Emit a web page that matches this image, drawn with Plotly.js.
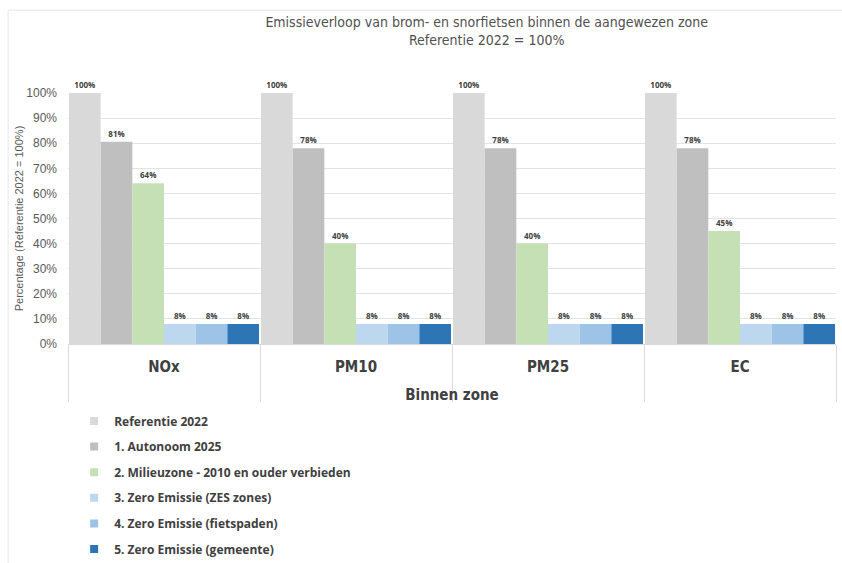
<!DOCTYPE html>
<html><head><meta charset="utf-8">
<script src="https://cdn.plot.ly/plotly-3.0.1.min.js"></script>
<style>body{margin:0;background:#fff}#chart{width:842px;height:563px}</style>
</head><body><div id="chart"></div>
<script>
const categories = ["NOx", "PM10", "PM25", "EC"];
const seriesNames = ["Referentie 2022", "1. Autonoom 2025", "2. Milieuzone - 2010 en ouder verbieden",
  "3. Zero Emissie (ZES zones)", "4. Zero Emissie (fietspaden)", "5. Zero Emissie (gemeente)"];
const referentie = [1.00, 1.00, 1.00, 1.00];
const autonoom = [0.806, 0.78, 0.78, 0.78];
const milieuzone = [0.64, 0.40, 0.40, 0.45];
const zesZones = [0.08, 0.08, 0.08, 0.08];
const fietspaden = [0.08, 0.08, 0.08, 0.08];
const gemeente = [0.08, 0.08, 0.08, 0.08];
const colors = ["#d9d9d9", "#bfbfbf", "#c5e0b4", "#bdd7ee", "#9dc3e6", "#2e75b6"];
const allSeries = [referentie, autonoom, milieuzone, zesZones, fietspaden, gemeente];

const traces = allSeries.map((vals, i) => ({
  type: "bar", name: seriesNames[i], x: categories, y: vals,
  marker: {color: colors[i]}, legendgroup: "g" + i, showlegend: false,
  texttemplate: "%{y:.0%}", textposition: "outside", cliponaxis: false,
  textfont: {family: "Open Sans", size: 8, color: "#404040", weight: "bold"},
  hoverinfo: "x+y+name"
}));
// legend entries (small square swatches like the original)
seriesNames.forEach((n, i) => traces.push({
  type: "scatter", mode: "markers", name: n, x: [null], y: [null], legendgroup: "g" + i,
  marker: {symbol: "square", size: 8, color: colors[i]}, hoverinfo: "skip"
}));

const layout = {
  width: 842, height: 563,
  margin: {l: 68, r: 6, t: 93, b: 219},
  paper_bgcolor: "#fff", plot_bgcolor: "#fff",
  barmode: "group", bargap: 0.01, bargroupgap: 0,
  font: {family: "Liberation Sans Narrow, DejaVu Sans Condensed, sans-serif", color: "#595959"},
  title: {text: "Emissieverloop van brom- en snorfietsen binnen de aangewezen zone<br>Referentie 2022 = 100%",
    x: 0.578, xref: "container", xanchor: "center", y: 0.952, yref: "container", yanchor: "middle",
    font: {size: 14, color: "#505050"}},
  yaxis: {range: [0, 1], tickformat: ".0%", dtick: 0.1, gridcolor: "#e3e3e3", zeroline: false,
    showline: false, ticks: "", ticklabelstandoff: 10,
    tickfont: {size: 12, color: "#595959", family: "Liberation Sans, sans-serif"},
    title: {text: "Percentage (Referentie 2022 = 100%)", standoff: 0, font: {size: 11, color: "#595959", family: "Liberation Sans, sans-serif"}}},
  xaxis: {type: "category", tickson: "boundaries", ticks: "outside", ticklen: 57, tickcolor: "#d9d9d9",
    showline: true, linecolor: "#d9d9d9", showgrid: false, ticklabelstandoff: 9,
    tickfont: {size: 15, color: "#404040", weight: "bold"},
    title: {text: "Binnen zone", standoff: 14, font: {size: 15, color: "#404040", weight: "bold"}}},
  showlegend: true,
  legend: {orientation: "v", x: 0.008, xanchor: "left", yref: "container", y: 0.278, yanchor: "top", traceorder: "grouped",
    tracegroupgap: 6.6, font: {family: "Open Sans, sans-serif", size: 12, color: "#404040", weight: "bold"},
    itemwidth: 30},
  shapes: [
    {type: "line", xref: "paper", yref: "paper", x0: -0.078, x1: 1.1, y0: 1.33, y1: 1.33, line: {color: "#e6e6e6", width: 1}},
    {type: "line", xref: "paper", yref: "paper", x0: -0.078, x1: -0.078, y0: 1.33, y1: -0.9, line: {color: "#e6e6e6", width: 1}}
  ]
};
Plotly.newPlot("chart", traces, layout, {displayModeBar: false});
</script></body></html>
